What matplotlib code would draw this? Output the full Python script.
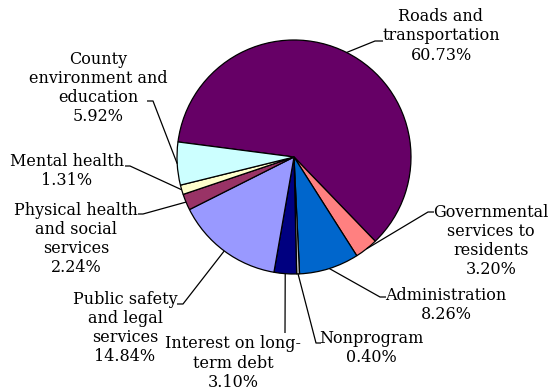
import numpy as np
import matplotlib
matplotlib.use("Agg")
import matplotlib.pyplot as plt

# ---- data ----
categories = ["Roads and\ntransportation", "Governmental\nservices to\nresidents",
              "Administration", "Nonprogram", "Interest on long-\nterm debt",
              "Public safety\nand legal\nservices", "Physical health\nand social\nservices",
              "Mental health", "County\nenvironment and\neducation"]
values = [60.73, 3.20, 8.26, 0.40, 3.10, 14.84, 2.24, 1.31, 5.92]
colors = ["#660066", "#FF8080", "#0066CC", "#C0C0C0", "#000080",
          "#9999FF", "#993366", "#FFFFCC", "#CCFFFF"]

W, H = 552, 390
fig = plt.figure(figsize=(W / 100, H / 100), dpi=100)
ax = fig.add_axes([0, 0, 1, 1])
ax.set_xlim(0, W)
ax.set_ylim(0, H)
ax.set_aspect("equal")
ax.axis("off")

cx, cy_px, R = 294, 157, 117
cy = H - cy_px

wedges, _ = ax.pie(values, colors=colors, startangle=172.6, counterclock=False,
                   center=(cx, cy), radius=R, frame=True,
                   wedgeprops=dict(edgecolor="black", linewidth=0.9))
ax.set_xlim(0, W)
ax.set_ylim(0, H)
ax.axis("off")

# label layout: (text center x, text center y from top, elbow (x,y), stub end (x,y))
layout = [
    ((441, 36), (375, 41), (383, 41)),
    ((491, 241), (428, 212), (434, 212)),
    ((446, 305), (380, 297), (386, 297)),
    ((371, 348), (316, 343), (321, 343)),
    ((233, 363), (285, 333), (285, 333)),
    ((125, 328), (183, 304), (177, 304)),
    ((76, 239), (143, 214), (138, 214)),
    ((67, 171), (130, 166), (125, 166)),
    ((98, 88), (153, 101), (147, 101)),
]

for w, cat, val, (tc, elbow, stub) in zip(wedges, categories, values, layout):
    mid = np.deg2rad((w.theta1 + w.theta2) / 2)
    ex, ey = cx + R * np.cos(mid), cy + R * np.sin(mid)
    xs = [ex, elbow[0], stub[0]]
    ys = [ey, H - elbow[1], H - stub[1]]
    ax.plot(xs, ys, color="black", linewidth=0.9, solid_capstyle="butt")
    ax.text(tc[0], H - tc[1], f"{cat}\n{val:.2f}%", ha="center", va="center",
            multialignment="center", fontsize=11.5, family="DejaVu Serif",
            linespacing=1.17, color="black")

fig.savefig("out.png", dpi=100)
